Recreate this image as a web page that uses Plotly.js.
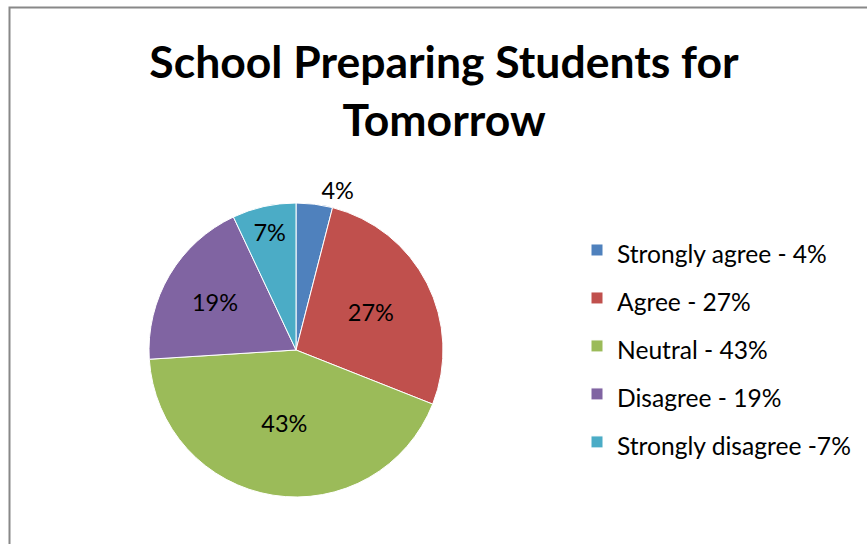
<!DOCTYPE html>
<html><head><meta charset="utf-8">
<script src="https://cdn.plot.ly/plotly-3.0.1.min.js"></script>
<style>html,body{margin:0;padding:0;background:#fff;overflow:hidden}#chart{width:867px;height:544px}</style>
</head><body><div id="chart"></div>
<script>
const categories = ["Strongly agree - 4%", "Agree - 27%", "Neutral - 43%", "Disagree - 19%", "Strongly disagree -7%"];
const values = [4, 27, 43, 19, 7];
const colors = ["#4F81BD", "#C0504D", "#9BBB59", "#8064A2", "#4BACC6"];
const FONT = "Lato, 'Open Sans', sans-serif";
const labelSize = 23.5;
const legendSize = 24.6;

const trace = {
  type: "pie",
  labels: categories.map(c => '<span style="font-size:' + legendSize + 'px">' + c + '</span>'),
  values: values,
  sort: false,
  direction: "clockwise",
  rotation: 0,
  marker: {colors: colors, line: {color: "#ffffff", width: 1}},
  texttemplate: "%{value}%",
  textposition: ["outside", "inside", "inside", "inside", "inside"],
  insidetextorientation: "horizontal",
  textfont: {family: FONT, size: labelSize, color: "#000"},
  insidetextfont: {family: FONT, size: labelSize, color: "#000"},
  outsidetextfont: {family: FONT, size: labelSize, color: "#000"},
  hoverinfo: "none",
  domain: {x: [149/867, 443/867], y: [(544-497)/544, (544-203)/544]}
};

const layout = {
  width: 867, height: 544,
  margin: {l: 0, r: 0, t: 0, b: 0},
  paper_bgcolor: "#fff",
  font: {family: FONT, color: "#000"},
  title: {
    text: "<b>School Preparing Students for<br>Tomorrow</b>",
    font: {family: FONT, size: 44.5, color: "#000"},
    x: 444/867, xanchor: "center",
    y: 1 - 78/544, yanchor: "top", yref: "container"
  },
  showlegend: true,
  legend: {
    x: 577/867, xanchor: "left",
    y: 1 - 221/544, yanchor: "top",
    font: {family: FONT, size: 34.6, color: "#000"},
    bgcolor: "rgba(0,0,0,0)",
    borderwidth: 0
  },
  shapes: [{
    type: "rect", xref: "paper", yref: "paper",
    x0: 9.5/867, x1: 1.05, y0: -0.05, y1: 1 - 7.5/544,
    line: {color: "#888888", width: 2}, fillcolor: "rgba(0,0,0,0)"
  }]
};

Plotly.newPlot("chart", [trace], layout, {displayModeBar: false, staticPlot: true});
</script></body></html>
